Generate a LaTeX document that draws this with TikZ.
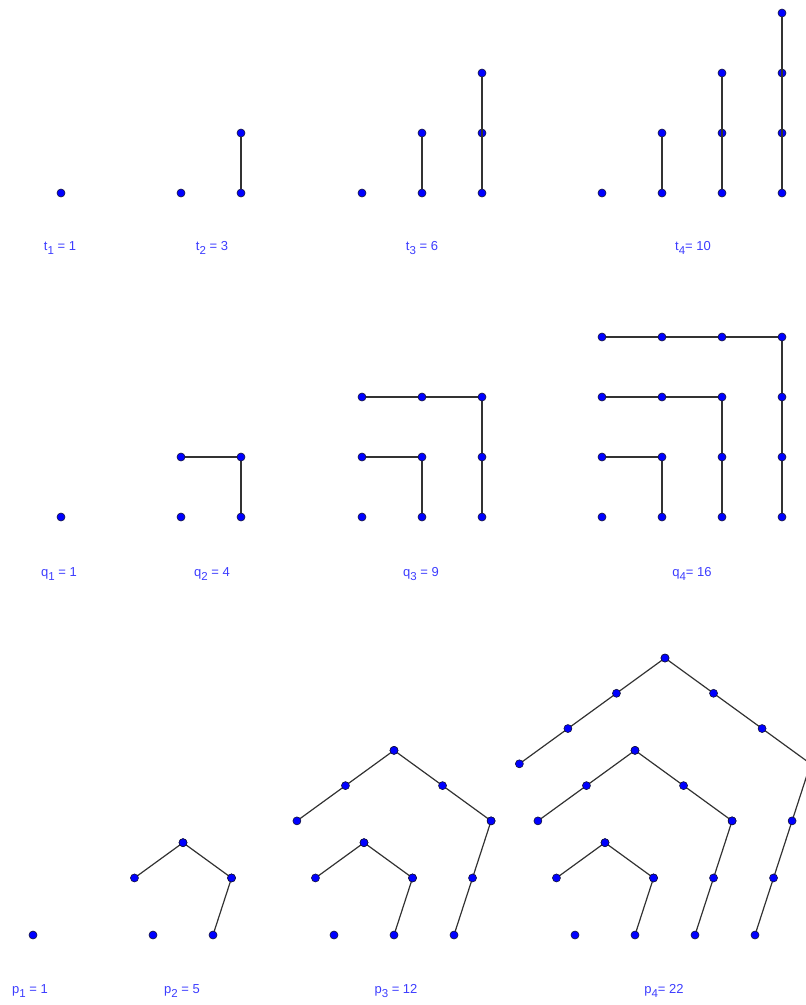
\documentclass[tikz,border=0pt]{standalone}
\usepackage{fontspec}
\setmainfont{Liberation Sans}
\usetikzlibrary{calc}
\definecolor{dotblue}{RGB}{0,0,255}
\definecolor{dotline}{RGB}{20,20,60}
\definecolor{lblblue}{RGB}{60,60,255}
\definecolor{edgegray}{RGB}{50,50,50}
\tikzset{
  dot/.style={circle,fill=dotblue,draw=dotline,line width=0.6pt,inner sep=0pt,minimum size=8pt},
  edge/.style={draw=edgegray,line width=1.2pt},
  lbl/.style={text=lblblue,font=\fontsize{13}{15}\selectfont,inner sep=0pt,anchor=center}
}
\newcommand\sbs[1]{\raisebox{-4pt}{\fontsize{11.5}{12}\selectfont #1}}
% one nested pentagon: prefix, x0, k
\newcommand\pentk[3]{%
  \pgfmathsetmacro\ss{60*#3}%
  \coordinate (#1B) at ({#2+\ss},935);
  \coordinate (#1C) at ({#2+1.309017*\ss},{935-0.951057*\ss});
  \coordinate (#1D) at ({#2+0.5*\ss},{935-1.538842*\ss});
  \coordinate (#1E) at ({#2-0.309017*\ss},{935-0.951057*\ss});
  \draw[edge] (#1B) -- (#1C) -- (#1D) -- (#1E);
  \foreach \i in {0,...,#3}{
    \node[dot] (#1bc\i) at ($(#1B)!{\i/#3}!(#1C)$) {};
    \node[dot] (#1cd\i) at ($(#1C)!{\i/#3}!(#1D)$) {};
    \node[dot] (#1de\i) at ($(#1D)!{\i/#3}!(#1E)$) {};
  }
}
\begin{document}
\begin{tikzpicture}[x=1pt,y=-1pt]
\useasboundingbox (0,0) rectangle (806,1005);
\clip (0,0) rectangle (806,1005);
% ---------- triangular ----------
\node[dot] (t1a) at (61,193) {};
\node[dot] (t2a) at (181,193) {};
\node[dot] (t2b) at (241,193) {};
\node[dot] (t2c) at (241,133) {};
\draw[edge] (t2b) -- (t2c);
\node[dot] (t3a) at (362,193) {};
\node[dot] (t3b) at (422,193) {};
\node[dot] (t3c) at (422,133) {};
\node[dot] (t3d) at (482,193) {};
\node[dot] (t3e) at (482,133) {};
\node[dot] (t3f) at (482,73) {};
\draw[edge] (t3b) -- (t3c);
\draw[edge] (t3d) -- (t3f);
\node[dot] (t4a) at (602,193) {};
\node[dot] (t4b) at (662,193) {};
\node[dot] (t4c) at (662,133) {};
\node[dot] (t4d) at (722,193) {};
\node[dot] (t4e) at (722,133) {};
\node[dot] (t4f) at (722,73) {};
\node[dot] (t4g) at (782,193) {};
\node[dot] (t4h) at (782,133) {};
\node[dot] (t4i) at (782,73) {};
\node[dot] (t4j) at (782,13) {};
\draw[edge] (t4b) -- (t4c);
\draw[edge] (t4d) -- (t4f);
\draw[edge] (t4g) -- (t4j);
\node[lbl] (lt1) at (60,248) {t\sbs{1} = 1};
\node[lbl] (lt2) at (212,248) {t\sbs{2} = 3};
\node[lbl] (lt3) at (422,248) {t\sbs{3} = 6};
\node[lbl] (lt4) at (693,248) {t\sbs{4}= 10};
% ---------- square ----------
\node[dot] (q1a) at (61,517) {};
\foreach \ox/\n/\nm in {181/2/qb,362/3/qc,602/4/qd}{
  \pgfmathtruncatemacro\nn{\n-1}
  \foreach \k in {1,...,\nn}{
    \coordinate (\nm L\k) at (\ox,{517-60*\k});
    \coordinate (\nm M\k) at ({\ox+60*\k},{517-60*\k});
    \coordinate (\nm R\k) at ({\ox+60*\k},517);
    \draw[edge] (\nm L\k) -- (\nm M\k) -- (\nm R\k);
  }
  \foreach \i in {0,...,\nn}{
    \foreach \j in {0,...,\nn}{
      \node[dot] (\nm\i-\j) at ({\ox+60*\i},{517-60*\j}) {};
    }
  }
}
\node[lbl] (lq1) at (59,574) {q\sbs{1} = 1};
\node[lbl] (lq2) at (212,574) {q\sbs{2} = 4};
\node[lbl] (lq3) at (421,574) {q\sbs{3} = 9};
\node[lbl] (lq4) at (692,574) {q\sbs{4}= 16};
% ---------- pentagonal ----------
\node[dot] (p1a) at (33,935) {};
\node[dot] (p2a) at (153,935) {};
\pentk{pba}{153}{1}
\node[dot] (p3a) at (334,935) {};
\pentk{pca}{334}{1}
\pentk{pcb}{334}{2}
\node[dot] (p4a) at (575,935) {};
\pentk{pda}{575}{1}
\pentk{pdb}{575}{2}
\pentk{pdc}{575}{3}
\node[lbl] (lp1) at (30,991) {p\sbs{1} = 1};
\node[lbl] (lp2) at (182,991) {p\sbs{2} = 5};
\node[lbl] (lp3) at (396,991) {p\sbs{3} = 12};
\node[lbl] (lp4) at (664,991) {p\sbs{4}= 22};
\end{tikzpicture}
\end{document}
